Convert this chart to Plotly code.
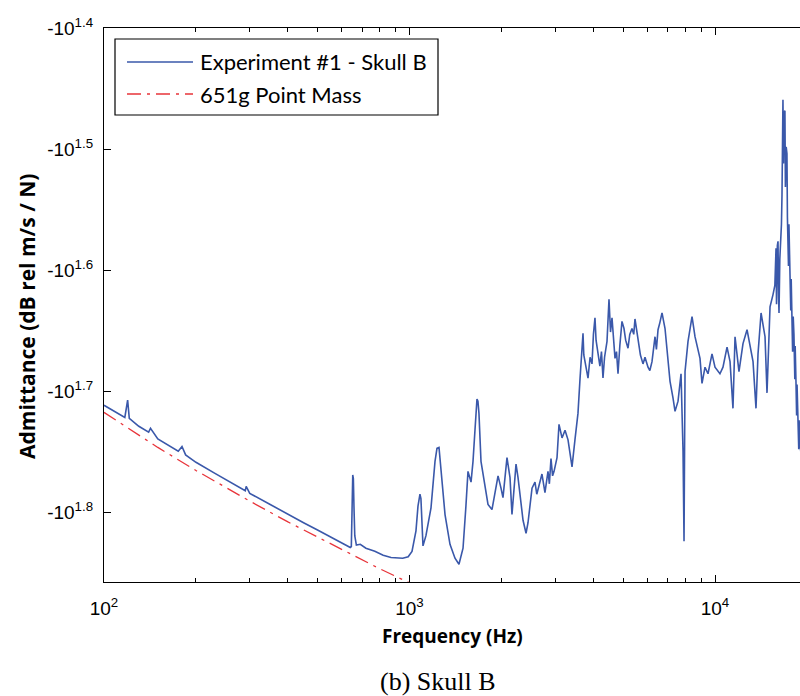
import plotly.graph_objects as go

# ---- Experiment #1, Skull B: measured admittance (dB rel m/s / N) ----
freq_hz = [
    100, 110, 117, 119.5, 121, 130, 140, 142, 150, 175, 180, 185, 200, 230,
    260, 290, 292, 300, 350, 400, 450, 500, 550, 600, 640,
    645, 649, 652, 655, 658, 662, 670, 690, 720, 770, 820, 870, 950, 990,
    1019, 1050, 1066, 1082, 1090, 1098, 1107, 1132, 1150, 1176, 1212, 1230,
    1249, 1277, 1307, 1357, 1409, 1452, 1497, 1530, 1554, 1590, 1614, 1638,
    1663, 1675, 1688, 1714, 1754, 1807, 1862, 1905, 1949, 1993, 2023, 2085,
    2133, 2165, 2232, 2266, 2317, 2353, 2407, 2443, 2518, 2575, 2610, 2654,
    2714, 2776, 2840, 2870, 2905, 2940, 2973, 3040, 3086, 3157, 3229, 3303,
    3404, 3480, 3560, 3615, 3670, 3698, 3720, 3754, 3840, 3900, 3957, 4000,
    4047, 4080, 4140, 4200, 4250, 4299, 4350, 4431, 4498, 4550, 4601, 4650,
    4706, 4760, 4814, 4880, 4960, 5036, 5100, 5191, 5260, 5349, 5420, 5471,
    5530, 5597, 5700, 5812, 5900, 6035, 6120, 6220, 6290, 6363, 6430, 6509,
    6600, 6708, 6861, 6966, 7125, 7288, 7399, 7568, 7741, 7859, 7918, 7978,
    8160, 8410, 8601, 8931, 9067, 9275, 9486, 9777, 10000, 10380, 10620,
    10950, 11200, 11450, 11630, 11980, 12350, 12730, 13020, 13320, 13620,
    13830, 14150, 14580, 14800, 15140, 15490, 15700, 15840, 15900, 16000,
    16080, 16150, 16200, 16300, 16440, 16500, 16570, 16620, 16690, 16760,
    16820, 16940, 17000, 17100, 17200, 17260, 17330, 17400, 17460, 17590,
    17700, 17760, 17860, 17950, 18030, 18130, 18250, 18300, 18410, 18500,
    18560, 18690, 18800, 18850, 18970, 19200, 19500,
]
admittance_db = [
    -51.5, -52.2, -52.7, -51.0, -52.8, -53.6, -54.2, -53.8, -54.9, -56.2,
    -55.7, -56.6, -57.4, -58.6, -59.7, -60.6, -60.1, -60.9, -62.2, -63.4,
    -64.4, -65.3, -66.1, -66.9, -67.5,
    -67.4, -63.0, -58.8, -59.2, -62.5, -66.0, -67.2, -67.1, -67.6, -68.0,
    -68.5, -68.8, -68.9, -68.7,
    -68.0, -65.4, -62.4, -61.0, -61.5, -64.5, -67.3, -66.0, -64.5, -62.6,
    -57.3, -55.9, -55.8, -59.6, -63.4, -67.1, -68.9, -69.7, -67.6, -62.4,
    -58.4, -59.6, -57.3, -54.0, -50.9, -51.1, -52.3, -57.3, -59.6, -62.2,
    -62.8, -61.0, -58.9, -60.3, -61.4, -56.9, -59.1, -63.4, -57.6, -59.1,
    -62.2, -64.1, -65.7, -64.4, -60.3, -59.6, -61.0, -59.9, -58.7, -60.8,
    -58.4, -59.8, -57.0, -58.9, -58.4, -56.9, -53.4, -54.8, -54.0, -55.0,
    -57.9, -55.0, -52.3, -49.0, -45.6, -44.9, -46.8, -47.4, -48.9, -47.0,
    -47.6, -45.0, -43.6, -45.5, -46.5, -47.8, -46.5, -48.9, -47.0, -45.6,
    -42.1, -44.8, -43.6, -45.0, -47.1, -46.5, -48.5, -46.0, -43.9, -44.5,
    -45.5, -46.2, -45.0, -44.5, -45.0, -43.7, -44.5, -45.8, -46.8, -47.6,
    -47.0, -47.9, -48.2, -47.4, -46.0, -45.2, -46.3, -44.6, -44.0, -43.2,
    -44.5, -46.5, -49.2, -50.8, -52.1, -51.1, -48.5, -56.2, -66.7, -48.3,
    -45.6, -43.5, -45.2, -47.1, -49.4, -47.9, -48.5, -46.7, -47.9, -48.5,
    -47.9, -46.1, -47.4, -51.8, -45.2, -48.3, -45.8, -44.6, -46.1, -47.4,
    -51.8, -46.7, -43.2, -45.2, -50.3, -42.7, -41.7, -41.0, -38.2, -42.5,
    -38.0, -37.7, -42.0, -43.2, -39.0, -37.5, -36.5, -34.5, -30.0, -28.8,
    -32.5, -29.5, -29.4, -34.0, -31.5, -31.9, -36.0, -37.5, -39.5, -36.5,
    -40.1, -43.0, -40.5, -43.6, -46.5, -43.5, -45.0, -49.0, -46.0, -49.2,
    -52.5, -49.5, -52.3, -56.0, -53.0, -55.4, -57.0, -54.0,
]

# ---- 651 g point mass reference ----
mass_freq_hz = [100, 150, 200, 300, 400, 500, 600, 700, 800, 900, 1000]
mass_admittance_db = [-52.2, -55.8, -58.3, -61.8, -64.3, -66.2, -67.8,
                      -69.1, -70.3, -71.3, -72.2]

legend_names = ["Experiment #1 - Skull B", "651g Point Mass"]
x_tick_exponents = [2, 3, 4]
y_tick_exponents = [1.4, 1.5, 1.6, 1.7, 1.8]
x_minor_ticks = [m * 10 ** e for e in (2, 3, 4) for m in range(2, 10)]

BLUE = "#3a58aa"
RED = "#e8343a"
DASHDOT = "14px,6px,3px,6px"

W, H = 800, 696
L_PX, T_PX, B_PX = 104, 28, 582   # plot area edges in pixels
R_PX = W


def px(xp):
    return (xp - L_PX) / (R_PX - L_PX)


def py(yp):
    return (B_PX - yp) / (B_PX - T_PX)


fig = go.Figure()
fig.add_trace(go.Scatter(
    x=freq_hz, y=[-v for v in admittance_db], mode="lines",
    name=legend_names[0], line=dict(color=BLUE, width=1.6),
    showlegend=False,
))
fig.add_trace(go.Scatter(
    x=mass_freq_hz, y=[-v for v in mass_admittance_db], mode="lines",
    name=legend_names[1],
    line=dict(color=RED, width=1.3, dash=DASHDOT),
    showlegend=False,
))

tick_font = dict(family="Liberation Sans, Arial, sans-serif", size=19,
                 color="black")

fig.update_xaxes(
    type="log", range=[2, 2 + (R_PX - L_PX) / 305.5],
    tickvals=[10 ** e for e in x_tick_exponents],
    ticktext=[f"10<sup>{e}</sup>" for e in x_tick_exponents],
    ticks="inside", ticklen=7, tickwidth=1, tickcolor="black",
    minor=dict(tickvals=x_minor_ticks, ticks="inside", ticklen=4,
               tickwidth=1, tickcolor="black", showgrid=False),
    showline=True, linecolor="black", linewidth=1.2, mirror="ticks",
    showgrid=False, zeroline=False, tickfont=tick_font,
    ticklabelstandoff=9,
)
fig.update_yaxes(
    type="log", range=[1.4 + (B_PX - T_PX) / 1210, 1.4],
    tickvals=[10 ** e for e in y_tick_exponents],
    ticktext=[f"-10<sup>{e}</sup>" for e in y_tick_exponents],
    ticks="inside", ticklen=7, tickwidth=1, tickcolor="black",
    showline=True, linecolor="black", linewidth=1.2, mirror=False,
    showgrid=False, zeroline=False, tickfont=tick_font,
    ticklabelstandoff=6,
)

# Legend box with line samples
shapes = [
    dict(type="rect", xref="paper", yref="paper",
         x0=px(115), x1=px(438), y0=py(39), y1=py(115),
         line=dict(color="black", width=1.2), fillcolor="white", layer="above"),
    dict(type="line", xref="paper", yref="paper",
         x0=px(127), x1=px(193), y0=py(62), y1=py(62),
         line=dict(color=BLUE, width=1.4), layer="above"),
    dict(type="line", xref="paper", yref="paper",
         x0=px(127), x1=px(193), y0=py(94), y1=py(94),
         line=dict(color=RED, width=1.3, dash=DASHDOT), layer="above"),
]

legend_font = dict(family="Lato, sans-serif", size=22, color="black")
annotations = [
    dict(text=legend_names[0], x=px(198), y=py(62), xref="paper",
         yref="paper", xanchor="left", yanchor="middle", showarrow=False,
         font=legend_font),
    dict(text=legend_names[1], x=px(198), y=py(94), xref="paper",
         yref="paper", xanchor="left", yanchor="middle", showarrow=False,
         font=legend_font),
    dict(text="<b>Frequency (Hz)</b>", x=px(452), y=py(636), xref="paper",
         yref="paper", xanchor="center", yanchor="middle", showarrow=False,
         font=dict(family="Open Sans, sans-serif", size=19, color="black")),
    dict(text="<b>Admittance (dB rel m/s / N)</b>", x=px(27), y=py(317),
         xref="paper", yref="paper", xanchor="center", yanchor="middle",
         textangle=-90, showarrow=False,
         font=dict(family="Open Sans, sans-serif", size=21, color="black")),
    dict(text="(b) Skull B", x=px(438), y=py(681), xref="paper",
         yref="paper", xanchor="center", yanchor="middle", showarrow=False,
         font=dict(family="Liberation Serif, Times New Roman, serif",
                   size=26, color="black")),
]

fig.update_layout(
    width=W, height=H,
    margin=dict(l=L_PX, r=W - R_PX, t=T_PX, b=H - B_PX, pad=0),
    paper_bgcolor="white", plot_bgcolor="white",
    showlegend=False, shapes=shapes, annotations=annotations,
)

fig.write_html("out.html")
